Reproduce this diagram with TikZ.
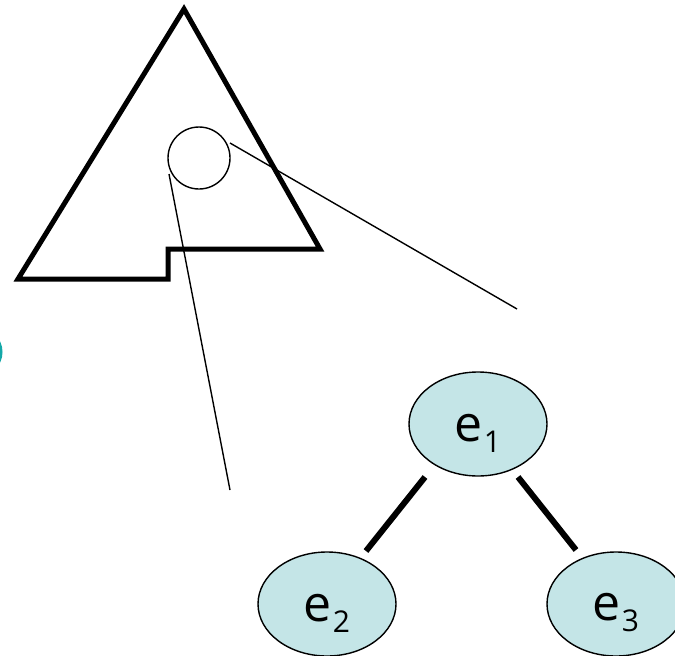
\documentclass[tikz,border=0pt]{standalone}
\usepackage{fontspec}
\setmainfont{Open Sans}
\usetikzlibrary{shapes.geometric}
\definecolor{efill}{HTML}{C4E5E7}
\definecolor{tealc}{HTML}{14A8A8}
\tikzset{
  elnode/.style={ellipse, draw=black, line width=1.4pt, fill=efill, minimum width=138pt, minimum height=104pt, inner sep=0pt},
  eltext/.style={inner sep=0pt, anchor=center},
  thick edge/.style={line width=6pt},
  thin edge/.style={line width=1.4pt},
  outline/.style={line width=5pt, line join=miter}
}
\newcommand{\lab}[2]{{\fontsize{50}{56}\selectfont #1\kern1pt\fontsize{30}{32}\selectfont\raisebox{-11pt}{#2}}}
\begin{document}
\begin{tikzpicture}[x=1pt,y=-1pt]
\useasboundingbox (0,0) rectangle (675,656);
\clip (0,0) rectangle (675,656);
% teal partial circle at left edge
\draw[tealc, line width=3pt] (-22,352) circle[radius=23];
% notched triangle
\coordinate (apex) at (184,9);
\coordinate (bl) at (18,279);
\coordinate (n1) at (168,279);
\coordinate (n2) at (168,249);
\coordinate (br) at (320,249);
\draw[outline] (apex) -- (bl) -- (n1) -- (n2) -- (br) -- cycle;
% zoom circle
\node[circle, draw, line width=1.4pt, minimum size=62pt, inner sep=0pt] (zc) at (199,158) {};
\coordinate (z1a) at (230,143);
\coordinate (z1b) at (517,309);
\coordinate (z2a) at (169,174);
\coordinate (z2b) at (230,490);
\draw[thin edge] (z1a) -- (z1b);
\draw[thin edge] (z2a) -- (z2b);
% tree
\node[elnode] (e1) at (478,424) {};
\node[elnode] (e2) at (327,604) {};
\node[elnode] (e3) at (616,604) {};
\node[eltext] (t1) at ([yshift=-9pt]e1.center) {\lab{e}{1}};
\node[eltext] (t2) at ([yshift=-9pt]e2.center) {\lab{e}{2}};
\node[eltext] (t3) at ([yshift=-9pt]e3.center) {\lab{e}{3}};
\coordinate (a1) at (425,477);
\coordinate (a2) at (366,551);
\coordinate (b1) at (518,477);
\coordinate (b2) at (576,550);
\draw[thick edge] (a1) -- (a2);
\draw[thick edge] (b1) -- (b2);
\end{tikzpicture}
\end{document}
